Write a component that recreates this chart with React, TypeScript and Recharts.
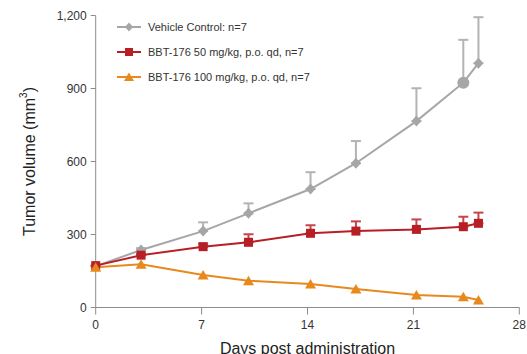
import React from "react";
import { LineChart, Line, XAxis, YAxis, ErrorBar, Legend } from "recharts";

// days post administration
const days = [0, 3, 7.1, 10.1, 14.2, 17.2, 21.2, 24.3, 25.3];

const vehicle = [170, 236, 314, 387, 487, 593, 766, 924, 1004];
const vehicleErr = [0, 8, 36, 41, 69, 91, 135, 176, 189];

const bbt50 = [172, 215, 250, 268, 305, 314, 321, 332, 346];
const bbt50Err = [0, 6, 12, 33, 33, 40, 41, 41, 44];

const bbt100 = [165, 178, 134, 110, 97, 76, 51, 44, 31];

const xTicks = [0, 7, 14, 21, 28];
const yTicks = [0, 300, 600, 900, 1200];

const seriesNames = [
  "Vehicle Control: n=7",
  "BBT-176 50 mg/kg, p.o. qd, n=7",
  "BBT-176 100 mg/kg, p.o. qd, n=7",
];

const GRAY = "#a6a6a6";
const GRAY_ERR = "#b3b3b3";
const RED = "#b71f25";
const RED_ERR = "#c4454a";
const ORANGE = "#e8891d";
const FONT = "'Liberation Sans', Arial, Helvetica, sans-serif";

const data = days.map((d, i) => ({
  day: d,
  vehicle: vehicle[i],
  vehicleErr: [0, vehicleErr[i]],
  bbt50: bbt50[i],
  bbt50Err: [0, bbt50Err[i]],
  bbt100: bbt100[i],
}));

const DiamondDot = (props: any) => {
  const { cx, cy, index } = props;
  if (cx == null || cy == null) return null;
  // the day-24 point is drawn as a circle in the original
  if (index === 7) return <circle cx={cx} cy={cy} r={6} fill={GRAY} />;
  return <path d={`M${cx},${cy - 5.5}L${cx + 5},${cy}L${cx},${cy + 5.5}L${cx - 5},${cy}Z`} fill={GRAY} />;
};

const SquareDot = (props: any) => {
  const { cx, cy } = props;
  if (cx == null || cy == null) return null;
  return <rect x={cx - 4.5} y={cy - 4.5} width={9} height={9} fill={RED} />;
};

const TriangleDot = (props: any) => {
  const { cx, cy } = props;
  if (cx == null || cy == null) return null;
  return <path d={`M${cx},${cy - 5}L${cx + 5.5},${cy + 4.5}L${cx - 5.5},${cy + 4.5}Z`} fill={ORANGE} />;
};

const legendIcons = [
  (cx: number, cy: number) => <path d={`M${cx},${cy - 4.5}L${cx + 4},${cy}L${cx},${cy + 4.5}L${cx - 4},${cy}Z`} fill={GRAY} />,
  (cx: number, cy: number) => <rect x={cx - 4} y={cy - 4} width={8} height={8} fill={RED} />,
  (cx: number, cy: number) => <path d={`M${cx},${cy - 4.5}L${cx + 5},${cy + 4}L${cx - 5},${cy + 4}Z`} fill={ORANGE} />,
];
const legendColors = [GRAY, RED, ORANGE];

const renderLegend = () => (
  <div style={{ fontFamily: FONT, fontSize: 11, color: "#333" }}>
    {seriesNames.map((name, i) => (
      <div key={name} style={{ display: "flex", alignItems: "center", height: 25 }}>
        <svg width={26} height={12} style={{ marginRight: 6 }}>
          <line x1={1} y1={6} x2={25} y2={6} stroke={legendColors[i]} strokeWidth={2} />
          {legendIcons[i](13, 6)}
        </svg>
        <span>{name}</span>
      </div>
    ))}
  </div>
);

const YLabel = (props: any) => {
  const vb = props.viewBox || {};
  const cx = 29;
  const cy = (vb.y ?? 15.5) + (vb.height ?? 292) / 2;
  return (
    <text
      x={cx}
      y={cy}
      transform={`rotate(-90 ${cx} ${cy})`}
      textAnchor="middle"
      dominantBaseline="central"
      fontFamily={FONT}
      fontSize={16}
      fill="#222"
    >
      Tumor volume (mm<tspan dy={-6} fontSize={10}>3</tspan><tspan dy={6}>)</tspan>
    </text>
  );
};

export default function App() {
  return (
    <div style={{ position: "absolute", left: 0, top: 0, width: 527, height: 354, background: "#fff" }}>
      <LineChart
        width={527}
        height={354}
        data={data}
        margin={{ top: 15.5, right: 7.7, left: 35.7, bottom: 0 }}
      >
        <XAxis
          dataKey="day"
          type="number"
          domain={[0, 28]}
          ticks={xTicks}
          height={46.5}
          stroke="#8c8c8c"
          tickSize={7}
          tickMargin={6}
          tick={{ fill: "#333", fontSize: 12, fontFamily: FONT }}
          label={{
            value: "Days post administration",
            position: "insideBottom",
            offset: 0.5,
            fill: "#222",
            fontSize: 16,
            fontFamily: FONT,
          }}
        />
        <YAxis
          type="number"
          domain={[0, 1200]}
          ticks={yTicks}
          width={60}
          stroke="#8c8c8c"
          tickSize={5}
          tickMargin={4}
          tick={{ fill: "#333", fontSize: 12, fontFamily: FONT }}
          tickFormatter={(v: number) => v.toLocaleString("en-US")}
          label={<YLabel />}
        />
        <Legend
          layout="vertical"
          align="center"
          verticalAlign="middle"
          content={renderLegend}
          wrapperStyle={{ left: 116, top: 14, width: 280 }}
        />
        <Line
          dataKey="vehicle"
          stroke={GRAY}
          strokeWidth={2}
          dot={<DiamondDot />}
          activeDot={false}
          isAnimationActive={false}
        >
          <ErrorBar dataKey="vehicleErr" direction="y" width={5} stroke={GRAY_ERR} strokeWidth={2} />
        </Line>
        <Line
          dataKey="bbt50"
          stroke={RED}
          strokeWidth={2}
          dot={<SquareDot />}
          activeDot={false}
          isAnimationActive={false}
        >
          <ErrorBar dataKey="bbt50Err" direction="y" width={5} stroke={RED_ERR} strokeWidth={2} />
        </Line>
        <Line
          dataKey="bbt100"
          stroke={ORANGE}
          strokeWidth={2}
          dot={<TriangleDot />}
          activeDot={false}
          isAnimationActive={false}
        />
      </LineChart>
    </div>
  );
}
